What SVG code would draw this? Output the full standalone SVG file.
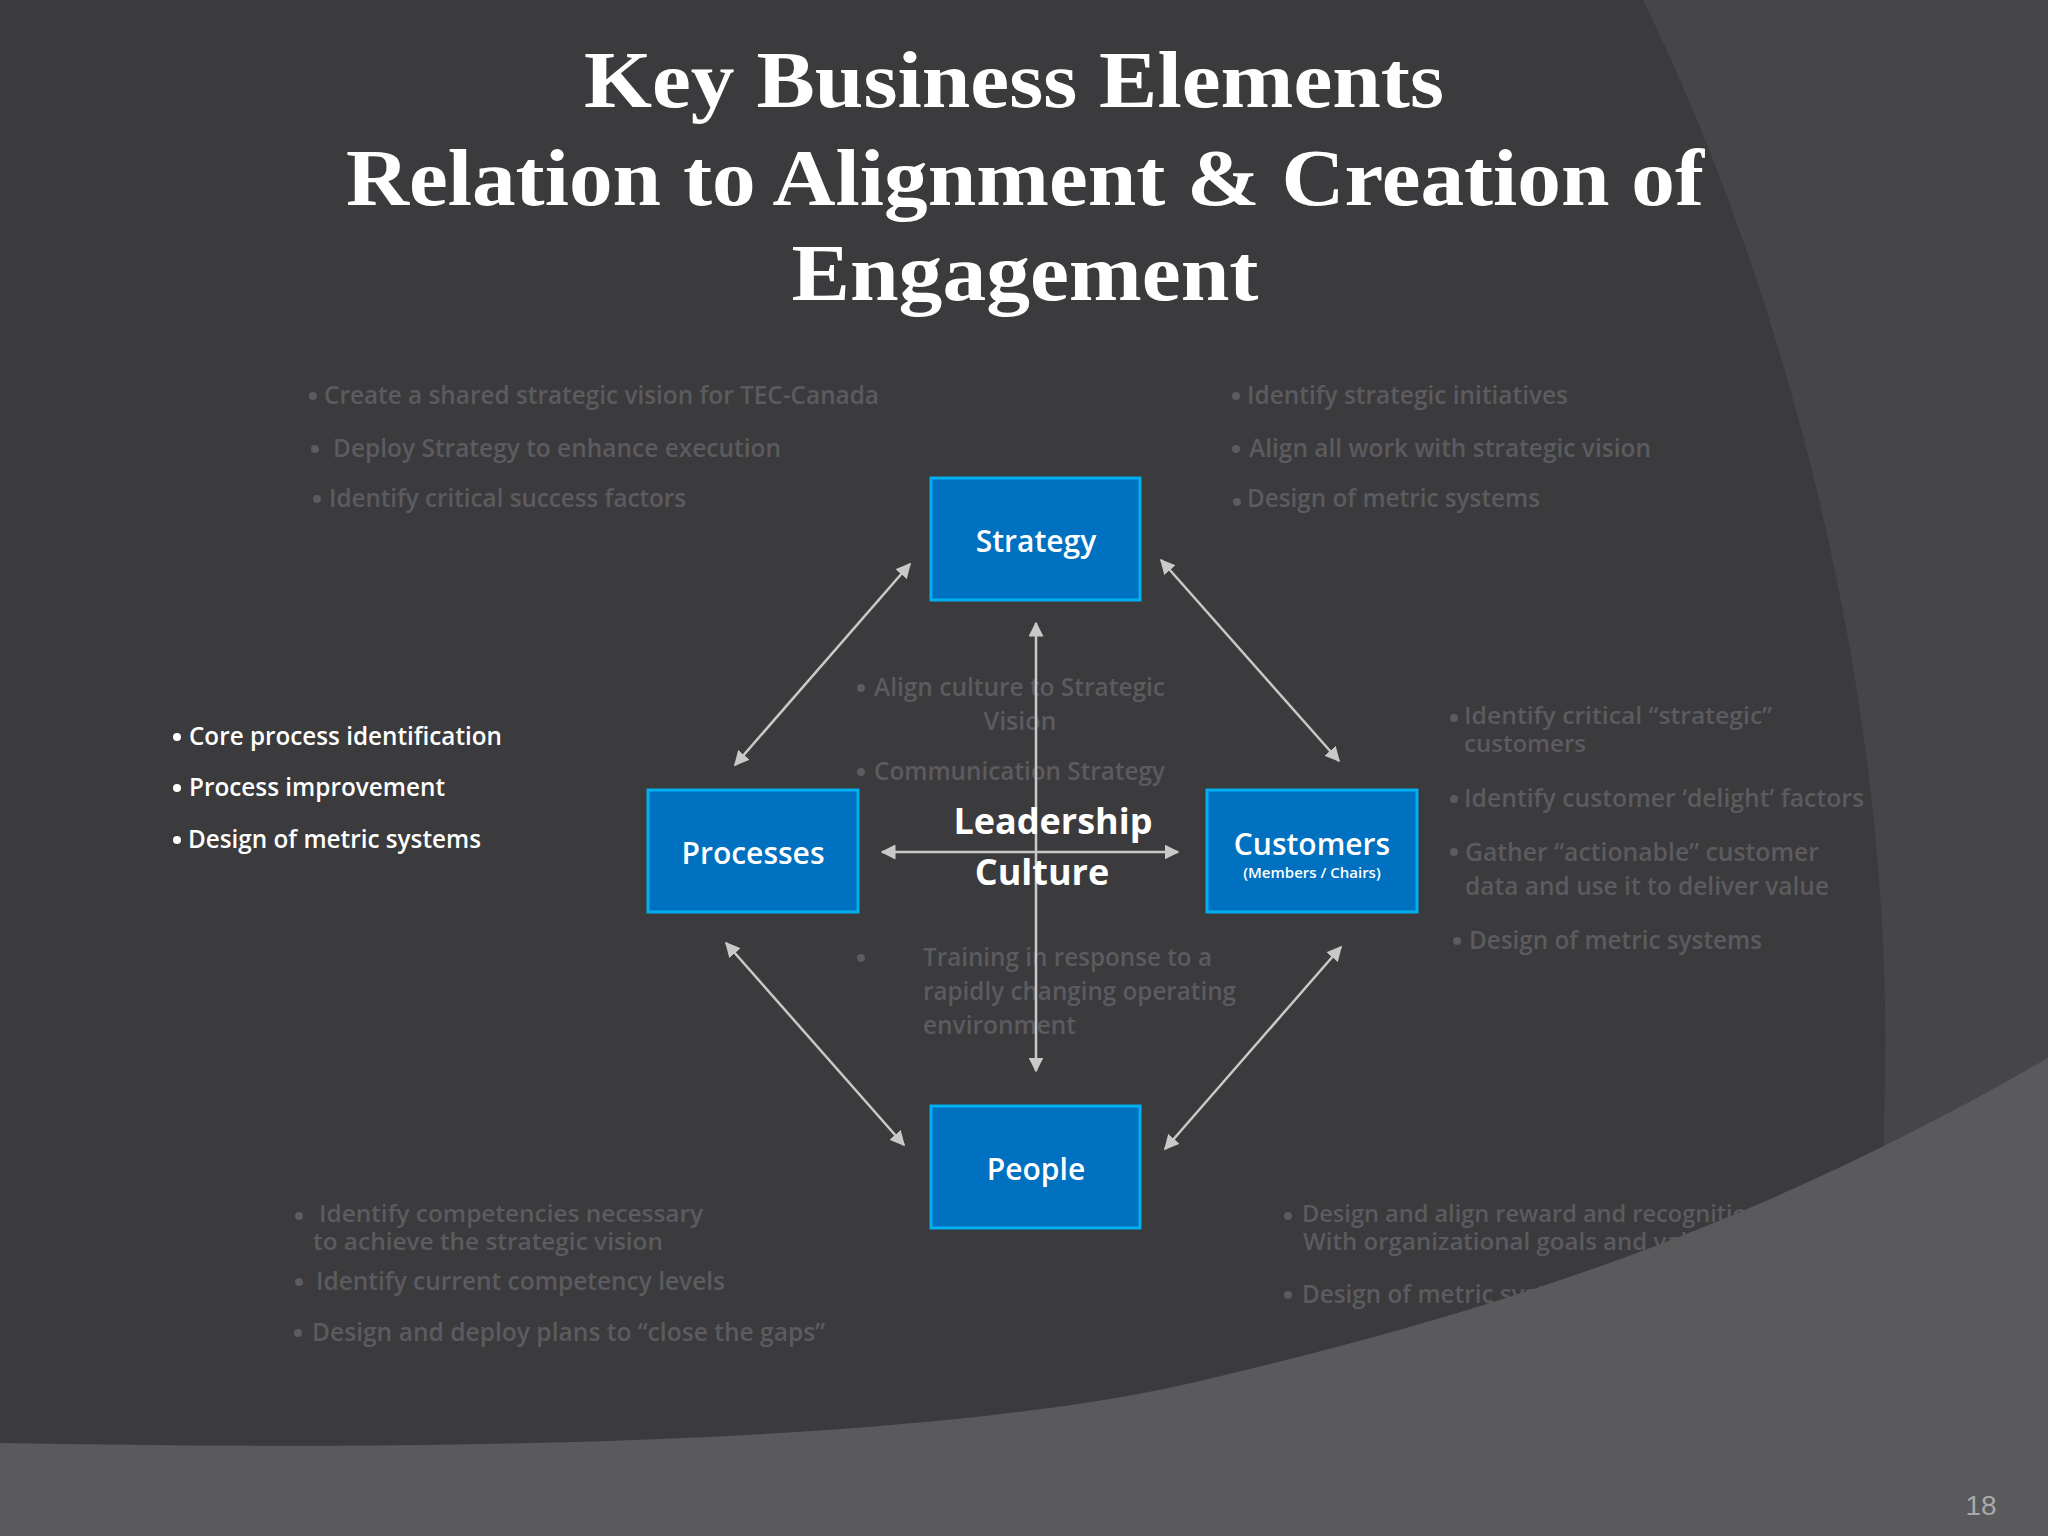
<svg xmlns="http://www.w3.org/2000/svg" width="2048" height="1536" viewBox="0 0 2048 1536">
<defs>
<style>
.g{font-family:"Open Sans","Liberation Sans",sans-serif;font-weight:600;font-size:25px;fill:#5c5b5f}
.s{font-size:23px}
.w{font-family:"Open Sans","Liberation Sans",sans-serif;font-weight:600;font-size:25px;fill:#ffffff}
.gb{fill:#5c5b5f}
.wb{fill:#ffffff}
.t{font-family:"Liberation Serif",serif;font-weight:bold;font-size:80px;fill:#ffffff;text-anchor:middle}
.box{fill:#0070C0;stroke:#00B0F0;stroke-width:3}
.bt{font-family:"Open Sans","Liberation Sans",sans-serif;font-weight:600;font-size:30px;fill:#ffffff;text-anchor:middle}
.lc{font-size:36px;font-weight:bold}
.sm{font-size:15px}
.con{stroke:#c9c9c9;stroke-width:2.5;fill:none;marker-start:url(#a);marker-end:url(#a)}
</style>
<marker id="a" viewBox="0 0 10 10" refX="9" refY="5" markerWidth="6" markerHeight="6" orient="auto-start-reverse" markerUnits="strokeWidth"><path d="M0,0 L10,5 L0,10 Z" fill="#c9c9c9"/></marker>
</defs>
<rect width="2048" height="1536" fill="#3b3a3d"/>
<path d="M1643,0 C1780,280 1900,700 1884,1120 L1884,1536 L2048,1536 L2048,0 Z" fill="#464548"/>
<g id="title">
<text class="t" x="1014" y="107" textLength="860" lengthAdjust="spacingAndGlyphs">Key Business Elements</text>
<text class="t" x="1025" y="205" textLength="1358" lengthAdjust="spacingAndGlyphs">Relation to Alignment &amp; Creation of</text>
<text class="t" x="1025" y="300" textLength="467" lengthAdjust="spacingAndGlyphs">Engagement</text>
</g>
<g id="strategy-notes">
<circle class="gb" cx="313" cy="396" r="4"/><text class="g" x="324" y="404" textLength="555" lengthAdjust="spacingAndGlyphs">Create a shared strategic vision for TEC-Canada</text>
<circle class="gb" cx="315" cy="449" r="4"/><text class="g" x="333" y="457" textLength="448" lengthAdjust="spacingAndGlyphs">Deploy Strategy to enhance execution</text>
<circle class="gb" cx="317" cy="499" r="4"/><text class="g" x="329" y="507" textLength="357" lengthAdjust="spacingAndGlyphs">Identify critical success factors</text>
<circle class="gb" cx="1236" cy="396" r="4"/><text class="g" x="1247" y="404" textLength="321" lengthAdjust="spacingAndGlyphs">Identify strategic initiatives</text>
<circle class="gb" cx="1236" cy="449" r="4"/><text class="g" x="1249" y="457" textLength="402" lengthAdjust="spacingAndGlyphs">Align all work with strategic vision</text>
<circle class="gb" cx="1237" cy="502" r="4"/><text class="g" x="1247" y="507" textLength="293" lengthAdjust="spacingAndGlyphs">Design of metric systems</text>
</g>
<g id="process-notes">
<circle class="wb" cx="177" cy="737" r="4"/><text class="w" x="189" y="745" textLength="313" lengthAdjust="spacingAndGlyphs">Core process identification</text>
<circle class="wb" cx="177" cy="788" r="4"/><text class="w" x="189" y="796" textLength="256" lengthAdjust="spacingAndGlyphs">Process improvement</text>
<circle class="wb" cx="177" cy="840" r="4"/><text class="w" x="188" y="848" textLength="293" lengthAdjust="spacingAndGlyphs">Design of metric systems</text>
</g>
<g id="culture-notes">
<circle class="gb" cx="861" cy="688" r="4"/><text class="g" x="874" y="696" textLength="291" lengthAdjust="spacingAndGlyphs">Align culture to Strategic</text>
<text class="g" x="1020" y="730" text-anchor="middle">Vision</text>
<circle class="gb" cx="861" cy="772" r="4"/><text class="g" x="874" y="780" textLength="291" lengthAdjust="spacingAndGlyphs">Communication Strategy</text>
<circle class="gb" cx="861" cy="958" r="4"/>
<text class="g" x="923" y="966" textLength="289" lengthAdjust="spacingAndGlyphs">Training in response to a</text>
<text class="g" x="923" y="1000" textLength="313" lengthAdjust="spacingAndGlyphs">rapidly changing operating</text>
<text class="g" x="923" y="1034" textLength="153" lengthAdjust="spacingAndGlyphs">environment</text>
</g>
<g id="customer-notes">
<circle class="gb" cx="1454" cy="718" r="4"/><text class="g s" x="1464" y="724" textLength="308" lengthAdjust="spacingAndGlyphs">Identify critical “strategic”</text>
<text class="g s" x="1464" y="752" textLength="122" lengthAdjust="spacingAndGlyphs">customers</text>
<circle class="gb" cx="1454" cy="799" r="4"/><text class="g" x="1464" y="807" textLength="400" lengthAdjust="spacingAndGlyphs">Identify customer ‘delight’ factors</text>
<circle class="gb" cx="1454" cy="852" r="4"/><text class="g" x="1465" y="861" textLength="354" lengthAdjust="spacingAndGlyphs">Gather “actionable” customer</text>
<text class="g" x="1465" y="895" textLength="364" lengthAdjust="spacingAndGlyphs">data and use it to deliver value</text>
<circle class="gb" cx="1457" cy="941" r="4"/><text class="g" x="1469" y="949" textLength="293" lengthAdjust="spacingAndGlyphs">Design of metric systems</text>
</g>
<g id="people-notes">
<circle class="gb" cx="299" cy="1216" r="4"/><text class="g s" x="319" y="1222" textLength="384" lengthAdjust="spacingAndGlyphs">Identify competencies necessary</text>
<text class="g s" x="313" y="1250" textLength="350" lengthAdjust="spacingAndGlyphs">to achieve the strategic vision</text>
<circle class="gb" cx="299" cy="1282" r="4"/><text class="g" x="316" y="1290" textLength="409" lengthAdjust="spacingAndGlyphs">Identify current competency levels</text>
<circle class="gb" cx="298" cy="1333" r="4"/><text class="g" x="312" y="1341" textLength="513" lengthAdjust="spacingAndGlyphs">Design and deploy plans to “close the gaps”</text>
<circle class="gb" cx="1288" cy="1216" r="4"/><text class="g s" x="1302" y="1222" textLength="460" lengthAdjust="spacingAndGlyphs">Design and align reward and recognition</text>
<text class="g s" x="1303" y="1250" textLength="425" lengthAdjust="spacingAndGlyphs">With organizational goals and values</text>
<circle class="gb" cx="1288" cy="1295" r="4"/><text class="g" x="1302" y="1303" textLength="293" lengthAdjust="spacingAndGlyphs">Design of metric systems</text>
</g>
<path d="M0,1443 C500,1452 950,1440 1200,1381 C1500,1310 1750,1230 2048,1058 L2048,1536 L0,1536 Z" fill="#5a595c"/>
<text x="1981" y="1515" font-family="Liberation Sans, sans-serif" font-size="28" fill="#a9a9ab" text-anchor="middle">18</text>
<g id="connectors">
<line class="con" x1="910" y1="564" x2="735" y2="765"/>
<line class="con" x1="1161" y1="560" x2="1339" y2="761"/>
<line class="con" x1="726" y1="943" x2="904" y2="1145"/>
<line class="con" x1="1341" y1="947" x2="1165" y2="1149"/>
<line class="con" x1="882" y1="852" x2="1178" y2="852"/>
<line class="con" x1="1036" y1="623" x2="1036" y2="1071"/>
</g>
<g id="leadership-culture">
<text class="bt lc" x="1053" y="834">Leadership</text>
<text class="bt lc" x="1042" y="885">Culture</text>
</g>
<g id="strategy"><rect class="box" x="931" y="478" width="209" height="122"/><text class="bt" x="1036" y="552">Strategy</text></g>
<g id="processes"><rect class="box" x="648" y="790" width="210" height="122"/><text class="bt" x="753" y="864">Processes</text></g>
<g id="customers"><rect class="box" x="1207" y="790" width="210" height="122"/><text class="bt" x="1312" y="855">Customers</text><text class="bt sm" x="1312" y="878">(Members / Chairs)</text></g>
<g id="people"><rect class="box" x="931" y="1106" width="209" height="122"/><text class="bt" x="1036" y="1180">People</text></g>
</svg>
